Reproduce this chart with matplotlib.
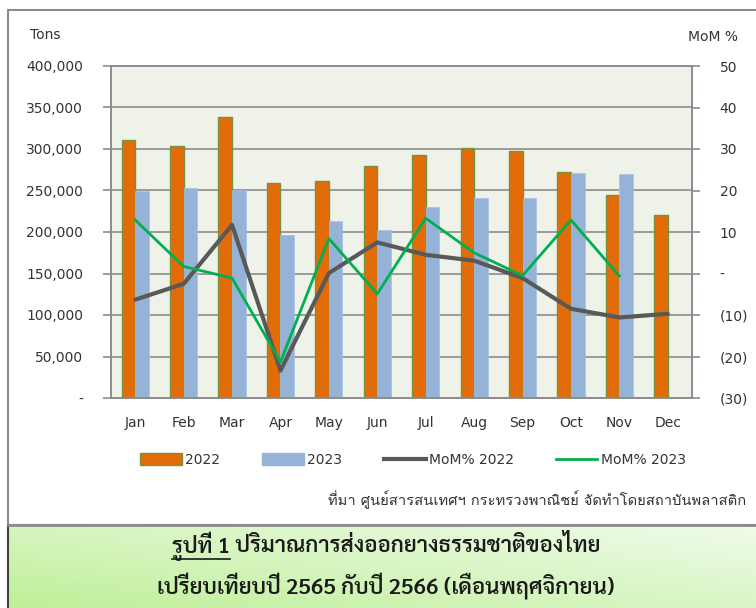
import matplotlib
matplotlib.use("Agg")
import matplotlib.pyplot as plt
from matplotlib.patches import Patch, Rectangle
from matplotlib.lines import Line2D
import numpy as np

months = ["Jan", "Feb", "Mar", "Apr", "May", "Jun", "Jul", "Aug", "Sep", "Oct", "Nov", "Dec"]
tons_2022 = [311000, 304000, 339000, 259500, 261000, 280000, 293000, 301500, 297500, 272500, 244000, 220500]
tons_2023 = [249500, 253500, 250000, 196000, 213000, 202500, 230000, 241500, 240500, 271000, 270000]
mom_2022 = [-6.3, -2.5, 11.7, -23.4, 0.1, 7.5, 4.5, 3.1, -1.1, -8.5, -10.6, -9.7]
mom_2023 = [12.9, 1.7, -1.1, -21.3, 8.4, -4.9, 13.3, 5.0, -0.5, 12.9, -0.6]

source_text = "ที่มา ศูนย์สารสนเทศฯ กระทรวงพาณิชย์ จัดทำโดยสถาบันพลาสติก"
caption_1a = "รูปที่ 1"
caption_1b = " ปริมาณการส่งออกยางธรรมชาติของไทย"
caption_2 = "เปรียบเทียบปี 2565 กับปี 2566 (เดือนพฤศจิกายน)"

plt.rcParams["font.family"] = ["DejaVu Sans"]
thai = ["Loma", "DejaVu Sans"]
thai_cap = ["Sarabun", "DejaVu Sans"]

fig = plt.figure(figsize=(7.56, 6.08), dpi=100)

# กรอบของกราฟ
W, H = 756, 608
fig.add_artist(Rectangle((8 / W, 1 - 525 / H), 1.2, (525 - 10) / H, transform=fig.transFigure,
                         facecolor="white", edgecolor="#8c8c8c", linewidth=1.5, zorder=0))

# กล่องคำบรรยายสีเขียวไล่ระดับ
cap_ax = fig.add_axes([8 / W, 0, 1 - 8 / W, (608 - 525) / H])
gx, gy = np.meshgrid(np.linspace(0, 1, 200), np.linspace(0, 1, 60))
g = (gx * 0.7 + (1 - gy) * 0.6) / 1.3
c0 = np.array([0.75, 0.94, 0.60])
c1 = np.array([0.94, 0.985, 0.92])
img = c0[None, None, :] * (1 - g[..., None]) + c1[None, None, :] * g[..., None]
cap_ax.imshow(img, aspect="auto", extent=[0, 1, 0, 1], origin="upper")
cap_ax.set_xlim(0, 1)
cap_ax.set_ylim(0, 1)
cap_ax.set_xticks([])
cap_ax.set_yticks([])
for s in cap_ax.spines.values():
    s.set_visible(False)
cap_ax.spines["left"].set_visible(True)
cap_ax.spines["left"].set_color("#404040")
cap_ax.spines["left"].set_linewidth(1.5)
cap_ax.spines["top"].set_visible(True)
cap_ax.spines["top"].set_color("#8c8c8c")
cap_ax.spines["top"].set_linewidth(2)

ax = fig.add_axes([111 / W, 1 - 398 / H, (692 - 111) / W, (398 - 66) / H])
ax.set_facecolor("#eff2e8")
x = np.arange(len(months))
w = 0.28
ax.bar(x - w / 2, tons_2022, w, color="#e36c09", edgecolor="#76923c", linewidth=1.0, zorder=2)
ax.bar(x[:len(tons_2023)] + w / 2, tons_2023, w, color="#95b3d7", edgecolor="#a6c0e0", linewidth=0.5, zorder=2)
ax.set_xlim(-0.5, 11.5)
ax.set_ylim(0, 400000)
ax.set_yticks(np.arange(0, 400001, 50000))
ax.set_yticklabels(["-"] + [f"{v:,}" for v in range(50000, 400001, 50000)])
ax.set_xticks(x)
ax.set_xticklabels(months)
ax.grid(axis="y", color="#8c8c8c", linewidth=1.2, zorder=1)
ax.set_axisbelow(True)
ax.tick_params(axis="x", length=0, pad=13, labelsize=10, colors="#333333")
ax.tick_params(axis="y", length=6, width=1.2, color="#8c8c8c", pad=14, labelsize=10, labelcolor="#333333")
for s in ax.spines.values():
    s.set_color("#8c8c8c")
    s.set_linewidth(1.2)

ax2 = ax.twinx()
ax2.plot(x, mom_2022, color="#595959", linewidth=3, solid_joinstyle="round", solid_capstyle="round", zorder=3)
ax2.plot(x[:len(mom_2023)], mom_2023, color="#00b050", linewidth=2, zorder=4)
ax2.set_ylim(-30, 50)
ticks_r = list(range(-30, 51, 10))
ax2.set_yticks(ticks_r)
ax2.set_yticklabels([f"({-t})" if t < 0 else ("-" if t == 0 else str(t)) for t in ticks_r])
ax2.tick_params(axis="y", length=6, width=1.2, color="#8c8c8c", pad=14, labelsize=10, labelcolor="#333333")
for s in ax2.spines.values():
    s.set_color("#8c8c8c")
    s.set_linewidth(1.2)

fig.text(30 / W, 1 - 35 / H, "Tons", fontsize=10, va="center", ha="left", color="#333333")
fig.text(738 / W, 1 - 37 / H, "MoM %", fontsize=10, va="center", ha="right", color="#333333")

handles = [
    Patch(facecolor="#e36c09", edgecolor="#76923c", linewidth=1.0),
    Patch(facecolor="#95b3d7", edgecolor="#95b3d7"),
    Line2D([], [], color="#595959", linewidth=3),
    Line2D([], [], color="#00b050", linewidth=2),
]
fig.legend(handles, ["2022", "2023", "MoM% 2022", "MoM% 2023"], loc="center",
           bbox_to_anchor=(413 / W, 1 - 460 / H), ncol=4, frameon=False, fontsize=10,
           handlelength=3.0, handleheight=0.9, handletextpad=0.25, columnspacing=3.0,
           labelcolor="#333333")

fig.text(328 / W, 1 - 500 / H, source_text, family=thai, fontsize=10.6, va="center", ha="left", color="#333333")

t1 = fig.text(172 / W, 1 - 546 / H, caption_1a, family=thai_cap, fontsize=16, va="center", ha="left",
              weight="semibold", color="#1a1a1a")
fig.canvas.draw()
bb = t1.get_window_extent()
fig.add_artist(Line2D([bb.x0 / W, bb.x1 / W], [(bb.y0 + 2) / H, (bb.y0 + 2) / H], transform=fig.transFigure,
                      color="#1a1a1a", linewidth=1.2))
fig.text(bb.x1 / W, 1 - 546 / H, caption_1b, family=thai_cap, fontsize=16, va="center", ha="left",
         weight="semibold", color="#1a1a1a")
fig.text(386 / W, 1 - 586 / H, caption_2, family=thai_cap, fontsize=16, va="center", ha="center",
         weight="semibold", color="#1a1a1a")

fig.savefig("out.png", dpi=100)
